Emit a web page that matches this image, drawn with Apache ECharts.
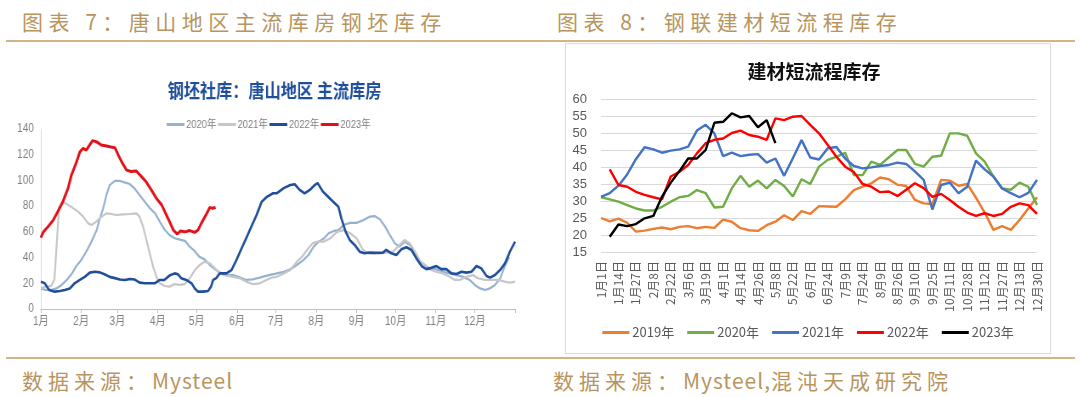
<!DOCTYPE html>
<html lang="zh">
<head>
<meta charset="UTF-8">
<title>钢坯库存与建材短流程库存</title>
<script src="https://cdn.jsdelivr.net/npm/echarts@6.0.0/dist/echarts.min.js"></script>
<style>
  html, body { margin: 0; padding: 0; background: #fff; }
  body { width: 1080px; height: 397px; position: relative; overflow: hidden;
         font-family: "Noto Sans CJK SC", sans-serif; }
  .hd { position: absolute; top: 6px; font-size: 21px; letter-spacing: 5.5px; color: #b8955e; white-space: nowrap; }
  .ft { position: absolute; top: 365px; font-size: 21px; color: #b8955e; white-space: nowrap; letter-spacing: 1px; }
  .ft .cj { letter-spacing: 5px; }
  .rule { position: absolute; left: 6px; width: 1069px; height: 2px; background: #d4b386; }
  #left { position: absolute; left: 0; top: 50px; width: 635px; height: 290px;
          transform: scaleX(0.85); transform-origin: 0 0; }
  #right { position: absolute; left: 565px; top: 43px; width: 484px; height: 309px; border: 1px solid #dcdcdc; }
</style>
</head>
<body>
<div class="hd" style="left:22px">图表 7：唐山地区主流库房钢坯库存</div>
<div class="hd" style="left:557px">图表 8：钢联建材短流程库存</div>
<div class="rule" style="top:40px"></div>
<div id="left"></div>
<div id="right"></div>
<div class="rule" style="top:357px"></div>
<div class="ft" style="left:22px"><span class="cj">数据来源：</span>Mysteel</div>
<div class="ft" style="left:553px"><span class="cj">数据来源：</span>Mysteel,<span class="cj">混沌天成研究院</span></div>

<script>
// ---------- 图表7 数据: [一年中的第几天, 万吨] ----------
var monthStarts = [0, 31, 59, 90, 120, 151, 181, 212, 243, 273, 304, 334];
var monthNames = ['1月','2月','3月','4月','5月','6月','7月','8月','9月','10月','11月','12月'];

var bil2020 = [[0,16],[4,14.8],[8,14.8],[12,16],[16,18.7],[20,22.6],[24,27.7],[27,33],[31,38],[35,44.6],[39,52.4],[43,61.4],[45,69],[48,78.3],[50.5,88.7],[53,96.4],[57,99.6],[61,99.6],[65,98.3],[68.5,97.2],[72,93.9],[76,88.7],[80,83.5],[84,78.3],[88,74.4],[91.5,68],[95.5,61.4],[99,57.6],[103,55],[107,54],[111,53],[114.5,48.5],[118.5,45],[122,40.7],[126,38.6],[130,34.2],[134,30.9],[138,28.3],[143,26.4],[148,26.4],[153,24.6],[158,22.6],[163,23],[168.5,24.4],[174,26],[181.5,27.7],[187,29],[192,30.9],[197,34.2],[202,38],[206,42],[210,48.5],[214,52.4],[218,55],[221.5,58.9],[225.5,60.7],[229,61.4],[233,65.3],[238,67],[243,67],[248,69],[253,71.8],[257,72.3],[261,69.7],[265,64],[268.5,57.6],[272.5,51],[276,48.5],[280,52.4],[284,49.8],[288,43.3],[291.5,36.8],[295.5,34.2],[299,31.6],[304,31],[309.5,29],[314.5,27.7],[320,26.4],[325,25],[330,22.6],[334,18.7],[338,16],[342,14.8],[345.5,16],[349.5,18.7],[353.5,23.8],[357,33],[360.5,40.7]];

var bil2021 = [[0,16],[4,17.4],[8,17.9],[10.5,23],[12.5,55],[14,78.3],[17,83.5],[21,81],[25,78.3],[28.7,75.7],[32.6,71.8],[36.4,66.6],[39,65.3],[42.8,68],[46.7,71.8],[50.5,74.4],[54.4,73.9],[58.2,73.1],[63.3,73.6],[68.5,73.9],[73.6,74.4],[76,71.8],[78.7,64],[81.3,53.7],[83.8,43.3],[86.4,33],[89,25],[91.5,20],[95.4,17.9],[99,17.4],[103,19.4],[107,18.7],[110.8,19.4],[114.6,23.9],[118.5,30.3],[122.3,34.2],[126,36.8],[130,35.5],[134,31.6],[137.7,27.7],[142.8,26],[148,25],[153,23.9],[158,21.3],[163,19.4],[168.5,20],[173.6,22.6],[178,24.5],[181.5,25],[187,27.7],[192,30.3],[197,36.8],[201,40.7],[205,46],[209,51],[213,52.4],[217.7,52.4],[222.8,55],[228,60],[233,61.4],[238,58.9],[243,55],[248,46],[252,43.3],[256,42.8],[261,43.3],[266,43.8],[271,44.6],[276,49.8],[280,53.7],[284,51],[288,44.6],[291.5,38],[295.5,34.2],[299,30.9],[304,29],[309.5,27.7],[314.6,25.1],[318.5,22.6],[322.4,22.6],[327.5,25.1],[332.6,26.4],[336.4,23.9],[341.8,22.6],[346.9,22.6],[352,22.6],[357,21.3],[361,20.5],[365,21.3]];

var bil2022 = [[0,21.3],[3,20],[6.4,14.8],[10.8,13.5],[14.6,14],[18.5,14.8],[22.3,16],[26,20],[30,22.6],[33.8,25],[37.7,28.3],[41.5,29],[45.4,28.5],[49,27],[53,25],[57,24],[60.8,23],[64.6,22.6],[68.5,23.3],[72,23],[76,20.5],[80,20],[83.8,20],[87.7,20],[91.5,22.6],[95,22.6],[99,26],[103,27.7],[105.6,27],[108,24],[112,22.6],[116,20],[118.5,16],[121,13.5],[125,13.5],[128.7,14],[131,17.4],[132.6,22.6],[135,24],[137.7,27.7],[142.8,27.7],[146.7,30.3],[150.5,38],[154,46],[158,55],[162,64],[166,73],[170,83.5],[173.6,87],[178.7,90],[181.5,90],[186.9,94],[192,96.4],[195.4,97],[199.2,92.6],[203,90],[207,92.6],[210.8,96.4],[213,98],[217,91.3],[221,87.4],[225,83.5],[229,79.6],[231.3,70.5],[234.6,60],[237.7,53.7],[241.5,49.8],[245.4,44.6],[249,43.3],[253,44],[258,43.8],[263.2,43.8],[265.8,46],[269.7,43.3],[273.6,42],[277.4,46.4],[281.3,48],[285.1,46],[289,39.4],[293,33.4],[296.7,31],[300.5,32],[304.4,33.4],[308.2,31],[312,31],[316,27.7],[319.9,27.2],[323.7,29],[327.5,28.3],[331.4,29],[335.3,33.4],[339,31.6],[343,25.7],[345.7,24.4],[349.5,26.4],[353.4,30.3],[357.2,35.5],[361,44.6],[365,52.4]];

var bil2023 = [[0,55.5],[2,60],[5.5,64],[9.5,69],[13,75.7],[17,83.5],[21,94],[23.5,104],[27,113],[30,122],[32.5,125],[35,123.5],[37.5,127.5],[40,131],[43,130],[46.5,127.5],[50.5,126.8],[54,126],[57,125.5],[59.5,120],[63,113],[66,108],[69.5,107],[73.5,107.3],[77.5,103],[81,99],[85,92.6],[89,86],[93,81],[96,74.4],[99,68],[102,61.4],[105,58.3],[107.5,60.7],[111,60],[114.5,61],[118.5,59.6],[121,61.4],[123.5,66.6],[127,73],[130,79],[132,78.3],[133,77],[134.5,79]];

// ---------- 图表8 数据: 周度, 万吨 ----------
var weekDates = ['1月1日','1月7日','1月14日','1月20日','1月27日','2月2日','2月8日','2月15日','2月22日','2月28日',
  '3月6日','3月12日','3月19日','3月26日','4月1日','4月7日','4月14日','4月20日','4月26日','5月2日',
  '5月8日','5月15日','5月22日','5月31日','6月7日','6月15日','6月24日','7月1日','7月9日','7月16日',
  '7月24日','8月1日','8月9日','8月17日','8月26日','9月2日','9月10日','9月17日','9月25日','10月3日',
  '10月11日','10月19日','10月28日','11月4日','11月12日','11月20日','11月27日','12月5日','12月13日','12月21日','12月30日'];

var inv2019 = [25,24,24.8,23.6,21,21.3,21.8,22.2,21.7,22.4,22.6,22,22.4,22.1,24.5,23.9,22,21.4,21.2,22.9,23.9,25.8,24.4,27,26.2,28.5,
  28.4,28.3,30.5,33.2,34.2,35.2,36.9,36.4,34.8,34.4,30.3,29.3,29.1,36.2,36,34.5,35,31,26.6,21.5,22.6,21.5,24.4,27.8,31.1];
var inv2020 = [31.1,30.5,29.8,28.8,27.8,27.2,27.2,28.3,29.8,31.1,31.5,33.2,32.3,28.1,28.3,33.7,37.4,34.2,36,33.7,36.2,34.4,31.3,36.4,35,40.1,
  42.1,43,44.2,37.6,37.6,41.6,40.6,42.8,45,45,40.9,40.1,43,43.3,49.9,49.9,49.2,44,41.6,37.2,33.7,33.3,35.4,34.2,28.8];
var inv2021 = [31.2,32.3,34.5,37.8,42.3,45.8,45.2,44.2,44.8,45.2,46,50.7,52.4,49.9,43.2,44.2,43.2,43.6,43.8,41.3,42.5,37.4,42.6,47.9,42.8,42.2,
  45.5,45.9,42.5,40.3,39.6,39.9,40.3,40.6,41.3,40.9,38.7,36.2,27.5,34.7,35.4,32.3,34.2,41.9,39.3,37.2,33.7,32.3,31.1,32.4,36.2];
var inv2022 = [null,39.3,34.7,34.2,32.7,31.8,31.1,30.5,37.2,38.6,40.6,44,47,48,48.4,50,50.7,49.4,48.9,48,54.3,53.8,54.8,55,52.4,49.9,
  46.5,43,40.1,38.5,35,34.2,32.6,32.8,31.5,33.3,35.2,33.8,31.2,32.1,30.3,28.3,26.6,25.6,26.4,25.6,26.2,28.3,29.3,28.8,26.2];
var inv2023 = [null,19.5,23.1,22.6,23.2,24.9,25.6,31.3,35.4,38.8,42.5,42.5,45,53,53.3,55.8,54.6,55,51.7,53.8,47];

// ---------- 图表7 ----------
var leftChart = echarts.init(document.getElementById('left'));
var lfont = "'Liberation Sans', 'Noto Sans CJK SC', sans-serif";
leftChart.setOption({
    animation: false,
    title: {
        text: '钢坯社库：唐山地区 主流库房',
        left: 318, top: 26, textAlign: 'center',
        textStyle: { color: '#1f4e9a', fontSize: 19, fontWeight: 'bold', fontFamily: "'Noto Sans CJK SC', sans-serif" }
    },
    legend: {
        left: 196, top: 69, padding: 0,
        icon: 'rect', itemWidth: 21, itemHeight: 3, itemGap: 2,
        textStyle: { color: '#7f7f7f', fontSize: 11, fontFamily: lfont, padding: [0, 0, 0, -3] },
        data: ['2020年', '2021年', '2022年', '2023年']
    },
    grid: { left: 48, right: 29, top: 79, bottom: 31 },
    xAxis: {
        type: 'value', min: 0, max: 365,
        axisLine: { show: true, lineStyle: { color: '#bfbfbf' } },
        axisTick: { show: true, length: 4, lineStyle: { color: '#bfbfbf' }, customValues: monthStarts.concat([365]) },
        axisLabel: {
            color: '#7f7f7f', fontSize: 12, fontFamily: lfont, margin: 7,
            customValues: monthStarts,
            formatter: function (v) { return monthNames[monthStarts.indexOf(v)]; }
        },
        splitLine: { show: false }
    },
    yAxis: {
        type: 'value', min: 0, max: 140, interval: 20,
        axisLine: { show: true, lineStyle: { color: '#d9d9d9' } },
        axisTick: { show: false },
        axisLabel: { color: '#7f7f7f', fontSize: 12, fontFamily: lfont, margin: 8 },
        splitLine: { show: false }
    },
    series: [
        { name: '2020年', type: 'line', data: bil2020, symbol: 'none', lineStyle: { color: '#95b1d0', width: 2.2 }, itemStyle: { color: '#95b1d0' } },
        { name: '2021年', type: 'line', data: bil2021, symbol: 'none', lineStyle: { color: '#c6c6c6', width: 2.2 }, itemStyle: { color: '#c6c6c6' } },
        { name: '2022年', type: 'line', data: bil2022, symbol: 'none', lineStyle: { color: '#1f4e9a', width: 2.6 }, itemStyle: { color: '#1f4e9a' } },
        { name: '2023年', type: 'line', data: bil2023, symbol: 'none', lineStyle: { color: '#e3101a', width: 3 }, itemStyle: { color: '#e3101a' } }
    ]
});

// ---------- 图表8 ----------
var rightChart = echarts.init(document.getElementById('right'));
var rfont = "'Noto Sans CJK SC', sans-serif";
function invSeries(name, data, color) {
    return { name: name, type: 'line', data: data, symbol: 'none', connectNulls: false,
             lineStyle: { color: color, width: 2.4 }, itemStyle: { color: color } };
}
rightChart.setOption({
    animation: false,
    title: {
        text: '建材短流程库存',
        left: 243, top: 13, textAlign: 'center',
        textStyle: { color: '#111', fontSize: 19, fontWeight: 'bold', fontFamily: rfont }
    },
    legend: {
        left: 'center', top: 282, padding: 0,
        icon: 'rect', itemWidth: 27, itemHeight: 3, itemGap: 13,
        textStyle: { color: '#595959', fontSize: 13, fontFamily: rfont, padding: [0, 0, 0, -2] },
        data: ['2019年', '2020年', '2021年', '2022年', '2023年']
    },
    grid: { left: 35, right: 13, top: 55, bottom: 101 },
    xAxis: {
        type: 'category', data: weekDates, boundaryGap: false,
        axisLine: { show: false }, axisTick: { show: false },
        axisLabel: { interval: 1, rotate: 90, color: '#595959', fontSize: 12, fontFamily: rfont, margin: 9 }
    },
    yAxis: {
        type: 'value', min: 15, max: 60, interval: 5,
        axisLine: { show: false }, axisTick: { show: false },
        axisLabel: { color: '#595959', fontSize: 13, fontFamily: "'Liberation Sans', sans-serif", margin: 14 },
        splitLine: { lineStyle: { color: '#d9d9d9', width: 1 } }
    },
    series: [
        invSeries('2019年', inv2019, '#ed7d31'),
        invSeries('2020年', inv2020, '#70ad47'),
        invSeries('2021年', inv2021, '#4472c4'),
        invSeries('2022年', inv2022, '#ff0000'),
        invSeries('2023年', inv2023, '#000000')
    ]
});
</script>
</body>
</html>
